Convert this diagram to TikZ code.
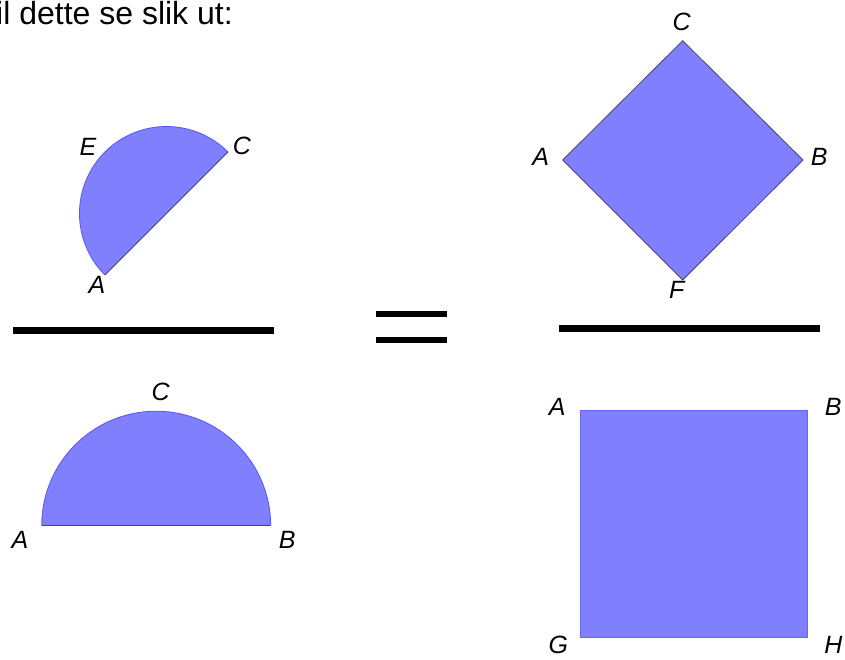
\documentclass[tikz,border=0pt]{standalone}
\usepackage{fontspec}
\setmainfont{Liberation Sans}
\usepackage{xcolor}
\usepackage{tikz}
\definecolor{shapefill}{RGB}{128,128,255}
\definecolor{arcline}{RGB}{85,85,255}
\definecolor{chordline}{RGB}{70,70,100}
\definecolor{sqline}{RGB}{100,100,255}

\begin{document}
\begin{tikzpicture}[x=1pt, y=1pt,
    lbl/.style={inner sep=0pt, font=\fontsize{25}{30}\selectfont\itshape},
    fracbar/.style={line width=7pt, black},
    piece/.style={fill=shapefill}
]
\useasboundingbox (0,0) rectangle (845,659);
\node[anchor=base west, inner sep=0pt, font=\fontsize{32}{36}\selectfont] (intro) at (-4,634) {il dette se slik ut:};

\coordinate (hA) at (105,384);
\coordinate (hC) at (228,507);
\fill[piece] (hC) arc[start angle=45, end angle=225, radius=87] -- cycle;
\draw[arcline, line width=0.8pt] (hC) arc[start angle=45, end angle=225, radius=87];
\draw[chordline, line width=0.8pt] (hA) -- (hC);
\node[lbl] (hlE) at (88,512) {E};
\node[lbl] (hlC) at (242,513) {C};
\node[lbl] (hlA) at (97,374) {A};

\draw[fracbar] (13.3,328.7) -- (274,328.7);
\draw[line width=6.5pt] (376,345) -- (447.3,345);
\draw[line width=6pt] (376,318.7) -- (447.3,318.7);
\draw[fracbar, line width=7.5pt] (559.3,330.7) -- (820,330.7);

\coordinate (sA) at (41.7,133.3);
\coordinate (sB) at (270.7,133.3);
\fill[piece] (sB) arc[start angle=0, end angle=180, radius=114.5] -- cycle;
\draw[arcline, line width=0.8pt] (sB) arc[start angle=0, end angle=180, radius=114.5];
\draw[chordline, line width=0.8pt] (sA) -- (sB);
\node[lbl] (slC) at (160.7,267.3) {C};
\node[lbl] (slA) at (20,119) {A};
\node[lbl] (slB) at (287.3,119) {B};

\coordinate (dC) at (682.7,618.3);
\coordinate (dA) at (562.7,499);
\coordinate (dB) at (803,499);
\coordinate (dF) at (682.7,379);
\filldraw[piece, draw=chordline, line width=0.8pt] (dC) -- (dB) -- (dF) -- (dA) -- cycle;
\node[lbl] (dlC) at (681.7,637.3) {C};
\node[lbl] (dlA) at (540.7,502.3) {A};
\node[lbl] (dlB) at (819.3,502.3) {B};
\node[lbl] (dlF) at (676.7,369) {F};

\coordinate (qA) at (580.7,248.3);
\coordinate (qB) at (807.7,248.3);
\coordinate (qG) at (580.7,21.7);
\coordinate (qH) at (807.7,21.7);
\filldraw[piece, draw=sqline, line width=1.2pt] (qA) -- (qB) -- (qH) -- (qG) -- cycle;
\node[lbl] (qlA) at (557.3,252.3) {A};
\node[lbl] (qlB) at (833.3,252.3) {B};
\node[lbl] (qlG) at (558.3,14) {G};
\node[lbl] (qlH) at (833.3,14) {H};
\end{tikzpicture}
\end{document}
